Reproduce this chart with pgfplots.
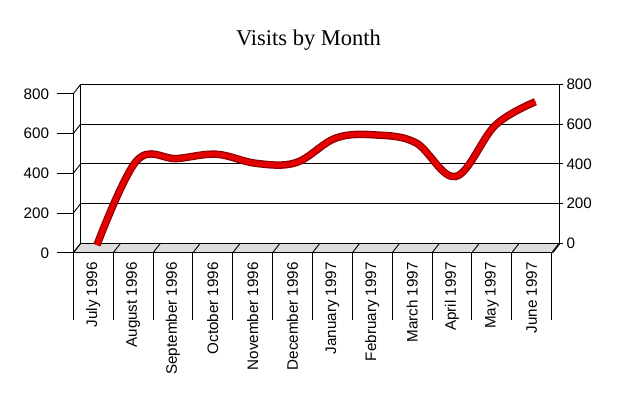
\documentclass[border=0pt]{standalone}
\usepackage{pgfplots}
\pgfplotsset{compat=1.18}
\usepackage{fontspec}
\setmainfont{Liberation Sans}
\newfontfamily\titlefont{Liberation Serif}
\definecolor{floorgray}{RGB}{221,221,221}
\definecolor{ribbonred}{RGB}{228,0,0}
\definecolor{ribbondark}{RGB}{145,0,0}
\newcommand{\lblfont}{\fontsize{15.2}{18}\selectfont}
\begin{document}
\begin{tikzpicture}
\path[use as bounding box] (0pt,0pt) rectangle (620pt,-400pt);
\begin{scope}[x=1pt,y=-1pt]
\fill[floorgray] (73.3,252.8) -- (551.6,252.8) -- (559,243.3) -- (80.7,243.3) -- cycle;
\foreach \i in {0,...,12} {
  \draw[line width=0.9pt] ({73.3+39.858*\i},252.8) -- ({80.7+39.858*\i},243.3);
  \draw[line width=0.9pt] ({73.3+39.858*\i},252.8) -- ({73.3+39.858*\i},320);
}
\foreach \k in {0,...,4} \draw[line width=0.9pt] (73.3,{252.8-39.75*\k}) -- (80.7,{243.3-39.75*\k});
\draw[line width=0.9pt] (552.8,252.8) -- (560.2,243.3);
\node[font=\titlefont\fontsize{22.5}{27}\selectfont, anchor=base] at (308.5,45) {Visits by Month};
\end{scope}

\begin{axis}[at={(80.7pt,-243.3pt)}, anchor=south west, scale only axis,
  width=478.3pt, height=159pt, xmin=0, xmax=12, ymin=0, ymax=800, clip=false,
  axis line style={line width=0.9pt}, xtick=\empty,
  ytick={0,200,...,800}, ytick pos=right, yticklabel pos=right,
  tick align=outside, major tick length=3.5pt,
  ymajorgrids, grid style={black, line width=0.9pt},
  tick style={black, line width=0.9pt},
  yticklabel style={font=\lblfont, xshift=0.5pt},
  /pgf/number format/assume math mode=true]
\addplot[ribbonred, line width=5pt, smooth, tension=0.6,
  preaction={draw=ribbondark, line width=7.5pt},
  xshift=-3.7pt, yshift=-4.75pt] coordinates {
  (0.5,15) (1.5,440) (2.5,450) (3.5,472) (4.5,426) (5.5,430)
  (6.5,554) (7.5,569) (8.5,530) (9.5,360) (10.5,619) (11.5,736)};
\end{axis}

\begin{axis}[at={(73.3pt,-252.8pt)}, anchor=south west, scale only axis,
  width=478.3pt, height=159pt, xmin=0, xmax=12, ymin=0, ymax=800,
  axis x line*=bottom, axis y line*=left,
  axis line style={line width=0.9pt, -},
  every outer x axis line/.append style={-},
  every outer y axis line/.append style={-},
  ytick={0,200,...,800}, tick align=outside,
  major tick length=16.6pt,
  ytick style={black, line width=0.9pt},
  yticklabel style={font=\lblfont, inner sep=0pt, xshift=-7.4pt},
  xtick={0.5,1.5,...,11.5},
  xticklabels={July 1996, August 1996, September 1996, October 1996, November 1996, December 1996, January 1997, February 1997, March 1997, April 1997, May 1997, June 1997},
  xtick style={draw=none},
  xticklabel style={font=\lblfont, rotate=90, anchor=east, inner sep=0pt},
  xticklabel shift={-7.4pt},
  /pgf/number format/assume math mode=true]
\end{axis}
\end{tikzpicture}
\end{document}
